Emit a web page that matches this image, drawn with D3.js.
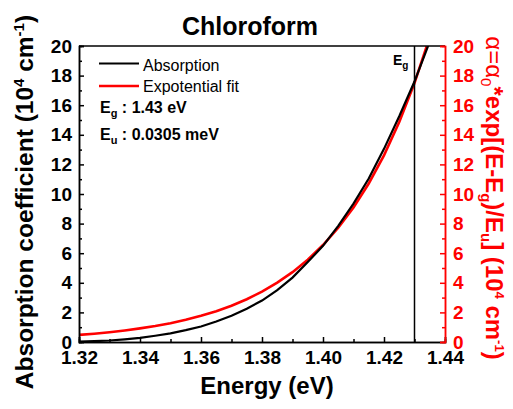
<!DOCTYPE html>
<html><head><meta charset="utf-8">
<script src="https://cdn.jsdelivr.net/npm/d3@7"></script>
<style>body{margin:0;background:#fff}svg{display:block}text{font-family:"Liberation Sans",Arial,sans-serif}</style>
</head><body>
<script>
const energy = [1.320,1.325,1.330,1.335,1.340,1.345,1.350,1.355,1.360,1.365,1.370,1.375,1.380,1.385,1.390,1.395,1.400,1.405,1.410,1.415,1.420,1.425,1.430,1.435,1.440];
const absorption = [0.03,0.06,0.10,0.18,0.28,0.42,0.58,0.80,1.05,1.38,1.78,2.25,2.80,3.50,4.35,5.40,6.50,7.85,9.35,11.05,13.05,15.25,17.6,20.3,23.0];
const expFit = [0.48,0.56,0.66,0.78,0.92,1.08,1.27,1.50,1.77,2.08,2.45,2.89,3.40,4.01,4.72,5.56,6.55,7.72,9.09,10.71,12.61,14.86,17.5,20.6,24.3];
const yTicks = [0,2,4,6,8,10,12,14,16,18,20];
const xTicks = [1.32,1.34,1.36,1.38,1.40,1.42,1.44];
const Eg = 1.43;

const W=513,H=409;
const svg=d3.select("body").append("svg").attr("width",W).attr("height",H);
const L=79,R=445,T=46,B=342;
const x=d3.scaleLinear([1.32,1.44],[L,R]);
const y=d3.scaleLinear([0,20],[B,T]);

svg.append("defs").append("clipPath").attr("id","c").append("rect")
  .attr("x",L).attr("y",T).attr("width",R-L).attr("height",B-T);

const line=(vals)=>d3.line().x((d,i)=>x(energy[i])).y(d=>y(d))(vals);
const g=svg.append("g").attr("clip-path","url(#c)");
g.append("path").attr("d",line(expFit)).attr("fill","none").attr("stroke","#ff0000").attr("stroke-width",2.6);
g.append("path").attr("d",line(absorption)).attr("fill","none").attr("stroke","#000").attr("stroke-width",2.2);
// Eg line
svg.append("line").attr("x1",x(Eg)).attr("x2",x(Eg)).attr("y1",T).attr("y2",B).attr("stroke","#000").attr("stroke-width",1.5);

// top border
svg.append("line").attr("x1",L).attr("x2",R).attr("y1",T).attr("y2",T).attr("stroke","#000").attr("stroke-width",1.5);

function styleAxis(sel,color,size){
  sel.select(".domain").attr("stroke",color).attr("stroke-width",1.5);
  sel.selectAll(".tick line").attr("stroke",color).attr("stroke-width",1.5);
  sel.selectAll(".tick text").attr("fill",color).attr("font-size",size).attr("font-weight","bold").attr("font-family","Liberation Sans, Arial, sans-serif");
}
const minorY=d3.range(1,20,2);
const minorX=[1.33,1.35,1.37,1.39,1.41,1.43];
// left
const la=svg.append("g").attr("transform",`translate(${L},0)`).call(d3.axisLeft(y).tickValues(yTicks).tickSize(-5).tickPadding(7).tickFormat(d3.format("d")));
styleAxis(la,"#000",19);
const lm=svg.append("g").attr("transform",`translate(${L},0)`).call(d3.axisLeft(y).tickValues(minorY).tickSize(-3).tickFormat(""));
styleAxis(lm,"#000",19);
// bottom
const ba=svg.append("g").attr("transform",`translate(0,${B})`).call(d3.axisBottom(x).tickValues(xTicks).tickSize(-5).tickPadding(9).tickFormat(d3.format(".2f")));
styleAxis(ba,"#000",19);
const bm=svg.append("g").attr("transform",`translate(0,${B})`).call(d3.axisBottom(x).tickValues(minorX).tickSize(-3).tickFormat(""));
styleAxis(bm,"#000",19);
// right
const ra=svg.append("g").attr("transform",`translate(${R},0)`).call(d3.axisRight(y).tickValues(yTicks).tickSize(-5).tickPadding(8).tickFormat(d3.format("d")));
styleAxis(ra,"#ff0000",19);
const rm=svg.append("g").attr("transform",`translate(${R},0)`).call(d3.axisRight(y).tickValues(minorY).tickSize(-3).tickFormat(""));
styleAxis(rm,"#ff0000",19);

// title
svg.append("text").attr("x",250).attr("y",35).attr("text-anchor","middle").attr("font-size",25).attr("font-weight","bold").text("Chloroform");
// x title
svg.append("text").attr("x",267).attr("y",394).attr("text-anchor","middle").attr("font-size",24).attr("font-weight","bold").text("Energy (eV)");
// left title
const lt=svg.append("text").attr("transform","translate(33,202) rotate(-90)").attr("text-anchor","middle").attr("font-size",24.5).attr("font-weight","bold");
lt.append("tspan").text("Absorption coefficient (10");
lt.append("tspan").attr("font-size",15).attr("dy",-9).text("4");
lt.append("tspan").attr("dy",9).text(" cm");
lt.append("tspan").attr("font-size",15).attr("dy",-9).text("-1");
lt.append("tspan").attr("dy",9).text(")");
// right title
const rt=svg.append("text").attr("transform","translate(486,198) rotate(90)").attr("text-anchor","middle").attr("font-size",24).attr("font-weight","bold").attr("fill","#ff0000");
rt.append("tspan").attr("font-weight","normal").text("α=α");
rt.append("tspan").attr("font-size",15).attr("dy",5).attr("font-weight","normal").text("0");
rt.append("tspan").attr("dy",-5).text("*exp[(E-E");
rt.append("tspan").attr("font-size",15).attr("dy",5).text("g");
rt.append("tspan").attr("dy",-5).text(")/E");
rt.append("tspan").attr("font-size",15).attr("dy",5).text("u");
rt.append("tspan").attr("dy",-5).text("] (10");
rt.append("tspan").attr("font-size",13).attr("dy",-9).text("4");
rt.append("tspan").attr("dy",9).text(" cm");
rt.append("tspan").attr("font-size",13).attr("dy",-9).text("-1");
rt.append("tspan").attr("dy",9).text(")");

// legend
svg.append("line").attr("x1",99).attr("x2",139).attr("y1",63.5).attr("y2",63.5).attr("stroke","#000").attr("stroke-width",2.2);
svg.append("text").attr("x",143).attr("y",70.5).attr("font-size",16).text("Absorption");
svg.append("line").attr("x1",99).attr("x2",139).attr("y1",86).attr("y2",86).attr("stroke","#ff0000").attr("stroke-width",2.6);
svg.append("text").attr("x",143).attr("y",92).attr("font-size",16).text("Expotential fit");
const e1=svg.append("text").attr("x",100).attr("y",112.5).attr("font-size",16).attr("font-weight","bold");
e1.append("tspan").text("E");
e1.append("tspan").attr("font-size",11).attr("dy",4).text("g");
e1.append("tspan").attr("dy",-4).text(" : 1.43 eV");
const e2=svg.append("text").attr("x",100).attr("y",140).attr("font-size",16).attr("font-weight","bold");
e2.append("tspan").text("E");
e2.append("tspan").attr("font-size",11).attr("dy",4).text("u");
e2.append("tspan").attr("dy",-4).text(" : 0.0305 meV");
// Eg label
const eg=svg.append("text").attr("x",393).attr("y",65).attr("font-size",14).attr("font-weight","bold");
eg.append("tspan").text("E");
eg.append("tspan").attr("font-size",10).attr("dy",4).text("g");
</script>
</body></html>
